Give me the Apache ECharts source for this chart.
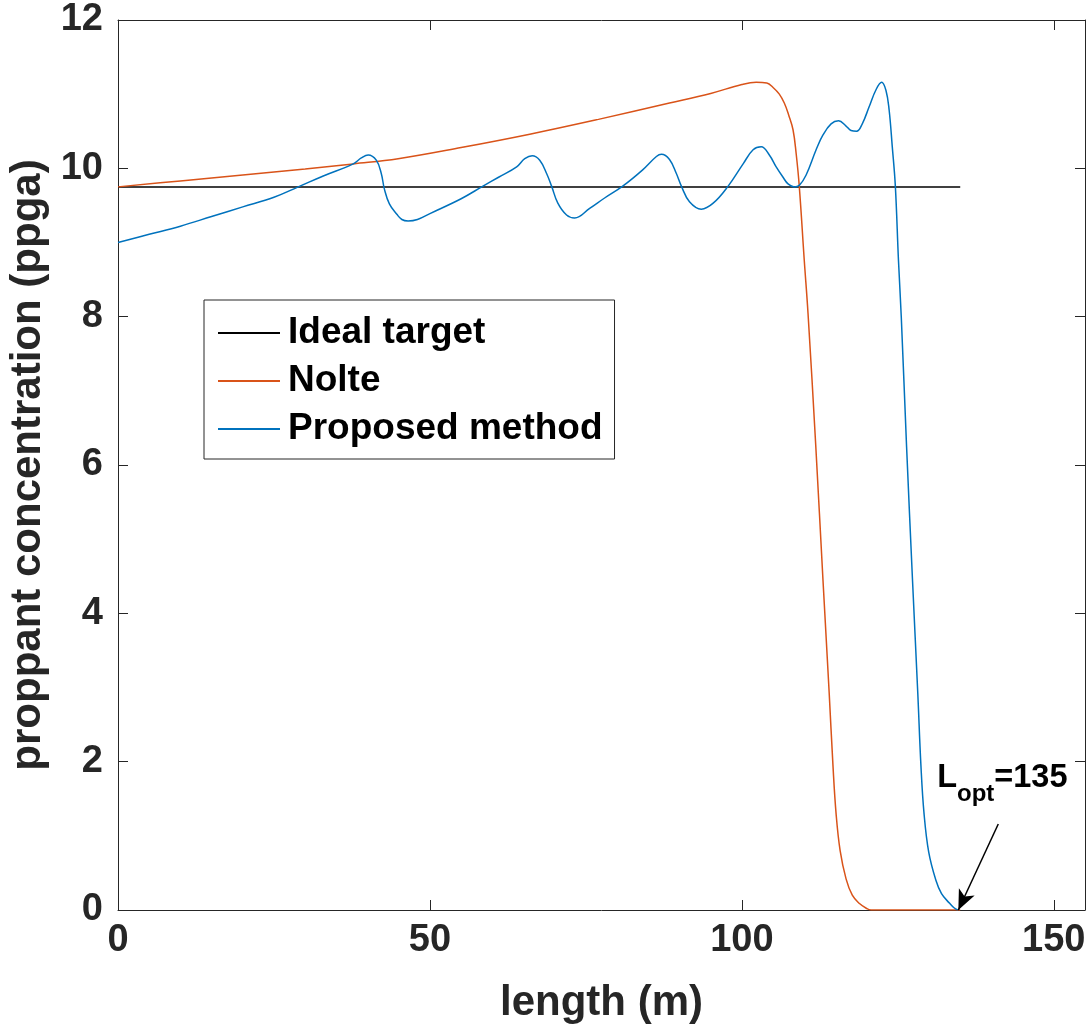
<!DOCTYPE html>
<html><head><meta charset="utf-8">
<script src="https://cdn.jsdelivr.net/npm/echarts@6/dist/echarts.min.js"></script>
<style>html,body{margin:0;padding:0;background:#fff}#c{width:1092px;height:1033px}</style>
</head><body><div id="c"></div>
<script>
const xTicks = [0, 50, 100, 150];
const seriesNames = ['Ideal target', 'Nolte', 'Proposed method'];
const targetX = [0, 135];
const targetY = [9.75, 9.75];
const nolteX = [0, 10, 20, 30, 37.7, 44.9, 55, 66, 77, 88.4, 95, 100, 102.3, 104, 105, 106, 106.8, 107.5, 108.2, 108.7, 109.2, 110.0, 110.6, 111.85, 113.0, 114.0, 114.6, 115.1, 115.75, 116.7, 117.7, 118.8, 120, 120.7, 135];
const nolteY = [9.75, 9.83, 9.91, 9.99, 10.06, 10.13, 10.28, 10.46, 10.66, 10.88, 11.01, 11.13, 11.16, 11.15, 11.09, 11.0, 10.88, 10.72, 10.52, 10.2, 9.76, 8.76, 8.05, 6.25, 4.45, 2.92, 1.95, 1.3, 0.8, 0.42, 0.2, 0.09, 0.02, 0, 0];
const propX = [0, 5, 10, 15, 20, 25, 28.9, 33, 37.7, 39, 40.1, 41.4, 42.2, 42.7, 43.5, 44.7, 45.5, 46.5, 48, 50, 55, 58.5, 61, 63.9, 65.2, 66.4, 67.6, 68.7, 69.5, 70.5, 71.9, 73.2, 75.6, 78, 80.9, 84.1, 86.3, 87.1, 88.4, 89.5, 90.3, 91.6, 93.5, 95.4, 97.8, 100.2, 101.8, 103.1, 104.4, 105.5, 106.6, 107.4, 108.4, 109.2, 110.3, 111.9, 113.0, 114.3, 115.5, 116.7, 117.5, 118.4, 119.3, 120.4, 121.5, 122.4, 123.1, 123.6, 124.1, 124.6, 125.1, 125.55, 126.4, 127.35, 128.2, 128.7, 129.2, 129.95, 131.1, 132, 133.3, 134, 134.6];
const propY = [9.0, 9.11, 9.22, 9.35, 9.48, 9.61, 9.75, 9.9, 10.06, 10.14, 10.18, 10.11, 9.93, 9.72, 9.52, 9.38, 9.31, 9.29, 9.31, 9.39, 9.59, 9.76, 9.88, 10.02, 10.13, 10.17, 10.11, 9.93, 9.76, 9.53, 9.37, 9.33, 9.46, 9.6, 9.76, 9.98, 10.16, 10.19, 10.12, 9.93, 9.76, 9.55, 9.45, 9.53, 9.76, 10.06, 10.25, 10.29, 10.18, 10.02, 9.88, 9.79, 9.75, 9.77, 9.91, 10.25, 10.45, 10.6, 10.64, 10.57, 10.51, 10.50, 10.6, 10.83, 11.06, 11.16, 11.05, 10.79, 10.3, 9.76, 8.76, 8.0, 6.25, 4.45, 2.92, 1.95, 1.3, 0.78, 0.40, 0.22, 0.09, 0.03, 0];
const annotText = 'L_opt=135';
const arrowFrom = [141.1, 1.16];
const arrowTo = [134.7, 0];
const labelAt = [131.3, 1.83];

const FONT = "'Liberation Sans', Arial, Helvetica, sans-serif";
const AX = '#262626';
const zip = (xs, ys) => xs.map((x, i) => [x, ys[i]]);

const chart = echarts.init(document.getElementById('c'), null, {renderer: 'canvas'});
const axisCommon = {
  axisLine: {show: true, onZero: false, lineStyle: {color: AX, width: 1}},
  axisTick: {show: true, inside: true, length: 10, lineStyle: {color: AX, width: 1}},
  splitLine: {show: false}
};
chart.setOption({
  animation: false,
  backgroundColor: '#fff',
  textStyle: {fontFamily: FONT},
  grid: {left: 118, top: 20, right: 7, bottom: 123, containLabel: false, outerBoundsMode: 'none'},
  legend: {
    data: seriesNames, orient: 'vertical', left: 204, top: 300,
    padding: [14, 12, 11, 14], itemWidth: 62, itemHeight: 2, itemGap: 10, icon: 'rect',
    borderColor: AX, borderWidth: 1, backgroundColor: '#fff',
    textStyle: {fontFamily: FONT, fontSize: 37, fontWeight: 'bold', color: '#000', lineHeight: 38, padding: [0, 0, 0, 3]}
  },
  xAxis: [
    Object.assign({
      type: 'value', min: 0, max: 155, interval: 50, position: 'bottom',
      axisLabel: {fontFamily: FONT, fontSize: 38, fontWeight: 'bold', color: AX, margin: 12, showMaxLabel: false,
        formatter: v => xTicks.includes(v) ? String(v) : ''},
      name: 'length (m)', nameLocation: 'middle', nameGap: 72,
      nameTextStyle: {fontFamily: FONT, fontSize: 42, fontWeight: 'bold', color: AX}
    }, axisCommon),
    Object.assign({
      type: 'value', min: 0, max: 155, interval: 50, position: 'top', axisLabel: {show: false}
    }, axisCommon)
  ],
  yAxis: [
    Object.assign({
      type: 'value', min: 0, max: 12, interval: 2, position: 'left',
      axisLabel: {fontFamily: FONT, fontSize: 38, fontWeight: 'bold', color: AX, margin: 15},
      name: 'proppant concentration (ppga)', nameLocation: 'middle', nameGap: 64, nameRotate: 90,
      nameTextStyle: {fontFamily: FONT, fontSize: 42, fontWeight: 'bold', color: AX}
    }, axisCommon),
    Object.assign({
      type: 'value', min: 0, max: 12, interval: 2, position: 'right', axisLabel: {show: false}
    }, axisCommon)
  ],
  series: [
    {name: seriesNames[0], type: 'line', data: zip(targetX, targetY), symbol: 'none', color: '#000000',
      lineStyle: {width: 1.5, color: '#000000'}},
    {name: seriesNames[1], type: 'line', data: zip(nolteX, nolteY), symbol: 'none', smooth: 0.4, color: '#D95319',
      lineStyle: {width: 1.5, color: '#D95319'}},
    {name: seriesNames[2], type: 'line', data: zip(propX, propY), symbol: 'none', smooth: 0.4, color: '#0072BD',
      lineStyle: {width: 1.5, color: '#0072BD'},
      markLine: {silent: true, symbol: ['none', 'arrow'], symbolSize: [13, 20], animation: false,
        lineStyle: {color: '#000', type: 'solid', width: 1.5}, label: {show: false},
        data: [[{coord: arrowFrom}, {coord: arrowTo}]]}}
  ]
});
const parts = annotText.split(/_|=/);
const p = chart.convertToPixel({gridIndex: 0}, labelAt);
chart.setOption({
  graphic: [{
    type: 'text', x: p[0], y: p[1], silent: true,
    style: {
      text: '{b|' + parts[0] + '}{s|' + parts[1] + '}{b|=' + parts[2] + '}',
      verticalAlign: 'top', align: 'left',
      rich: {
        b: {fontFamily: FONT, fontSize: 32.5, fontWeight: 'bold', fill: '#000', color: '#000', lineHeight: 32, padding: [0, 0, 12, 0], verticalAlign: 'bottom'},
        s: {fontFamily: FONT, fontSize: 24, fontWeight: 'bold', fill: '#000', color: '#000', lineHeight: 24, verticalAlign: 'bottom'}
      }
    }
  }]
});
</script></body></html>
